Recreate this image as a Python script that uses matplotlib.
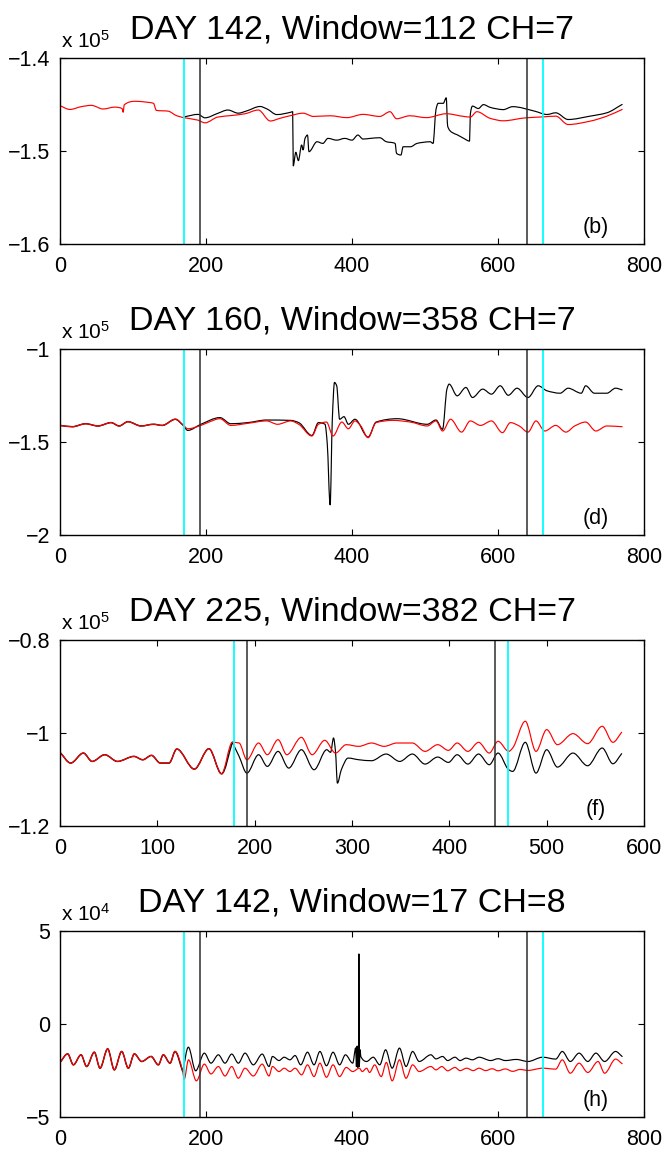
import numpy as np
import matplotlib
matplotlib.use("Agg")
import matplotlib.pyplot as plt
from matplotlib.path import Path
from matplotlib.patches import PathPatch

plt.rcParams['font.family'] = ['Liberation Sans', 'DejaVu Sans']
plt.rcParams['mathtext.fontset'] = 'custom'
plt.rcParams['mathtext.rm'] = 'Liberation Sans'
plt.rcParams['mathtext.it'] = 'Liberation Sans'

# ---- panel (b): DAY 142, Window=112, CH=7  (values in units of 1e5) ----
b_red_t = [0, 13.7, 29, 43, 59, 75, 85, 86.5, 88, 103, 119, 128, 132, 148, 160, 171, 189, 198.6,
           216, 235, 253, 271.6, 288, 301.4, 315, 333, 347, 370, 393, 415, 438, 452, 461, 479,
           502, 529, 553, 562, 571, 589, 607, 638, 661, 679, 696, 726, 749, 770]
b_red_v = [-1.451, -1.455, -1.452, -1.4506, -1.4545, -1.4525, -1.454, -1.458, -1.450, -1.4462,
           -1.4472, -1.4484, -1.456, -1.4568, -1.4618, -1.464, -1.4665, -1.4694, -1.4632,
           -1.4615, -1.4597, -1.4556, -1.4674, -1.4645, -1.4618, -1.459, -1.4625, -1.4618,
           -1.4638, -1.4603, -1.4625, -1.4574, -1.465, -1.4618, -1.4638, -1.4596, -1.4625,
           -1.4632, -1.4574, -1.4645, -1.4672, -1.464, -1.463, -1.4622, -1.4712, -1.4676,
           -1.4622, -1.455]
b_blk_t = [171, 189, 198.6, 216, 230, 244, 256, 274, 283.6, 297, 316, 318.7, 319.5, 323, 326.5,
           331, 333, 335.6, 339, 341, 352, 360, 367, 379, 390, 400, 408, 415, 425, 438, 447, 459,
           461, 467, 470, 480, 489, 497, 507, 511, 515, 518, 525, 529, 531, 537, 544, 553, 561,
           562, 565, 573, 580, 589, 598, 607, 620, 650, 667, 679, 696, 726, 749, 770]
b_blk_v = [-1.4628, -1.4603, -1.464, -1.4592, -1.4556, -1.459, -1.4565, -1.4518, -1.4545,
           -1.4605, -1.458, -1.4574, -1.5156, -1.501, -1.51, -1.4932, -1.4985, -1.4861,
           -1.4825, -1.5004, -1.4897, -1.4915, -1.4861, -1.488, -1.4861, -1.488, -1.4825,
           -1.4868, -1.4861, -1.4854, -1.4897, -1.4915, -1.5022, -1.504, -1.4951, -1.4951,
           -1.4915, -1.4904, -1.4897, -1.4915, -1.455, -1.4484, -1.4484, -1.4425, -1.473,
           -1.4797, -1.4822, -1.4861, -1.489, -1.4605, -1.4514, -1.454, -1.4498, -1.4527,
           -1.4543, -1.4552, -1.452, -1.4568, -1.4604, -1.4586, -1.4658, -1.4622, -1.4586,
           -1.4496]

# ---- panel (d): DAY 160, Window=358, CH=7  (units of 1e5) ----
d_red_t = [0, 17, 35, 52, 70, 81, 93, 111, 128, 140, 158, 169, 175, 193, 204, 219, 234, 257, 283,
           298, 316, 327, 345, 354, 365, 374, 386, 395, 404, 412, 422, 433, 456, 480, 503, 515,
           524, 535, 550, 562, 576, 591, 606, 617, 629, 641, 652, 664, 679, 693, 705, 720, 734,
           749, 770]
d_red_v = [-1.411, -1.418, -1.402, -1.414, -1.396, -1.414, -1.391, -1.414, -1.405, -1.411,
           -1.378, -1.411, -1.429, -1.411, -1.393, -1.375, -1.411, -1.400, -1.387, -1.405,
           -1.387, -1.405, -1.468, -1.405, -1.393, -1.468, -1.393, -1.429, -1.387, -1.414,
           -1.477, -1.396, -1.384, -1.393, -1.414, -1.387, -1.441, -1.378, -1.447, -1.387,
           -1.411, -1.387, -1.450, -1.396, -1.414, -1.447, -1.387, -1.441, -1.411, -1.447,
           -1.414, -1.393, -1.441, -1.414, -1.418]
d_blk_t = [169, 175, 193, 219, 234, 257, 283, 316, 327, 345, 354, 363, 366, 370, 373, 376, 379,
           383, 389, 395, 404, 422, 433, 462, 503, 515, 524, 530, 533, 544, 556, 565, 579, 591,
           603, 614, 626, 641, 655, 667, 685, 696, 714, 720, 732, 749, 761, 770]
d_blk_v = [-1.411, -1.438, -1.405, -1.369, -1.402, -1.396, -1.382, -1.384, -1.396, -1.465,
           -1.396, -1.405, -1.505, -1.838, -1.378, -1.180, -1.198, -1.378, -1.364, -1.405,
           -1.378, -1.474, -1.393, -1.375, -1.405, -1.382, -1.432, -1.216, -1.189, -1.252,
           -1.207, -1.261, -1.216, -1.243, -1.198, -1.249, -1.211, -1.261, -1.198, -1.225,
           -1.238, -1.211, -1.238, -1.198, -1.238, -1.238, -1.211, -1.220]

# ---- panel (f): DAY 225, Window=382, CH=7  (units of 1e5) ----
f_red_t = [0, 11, 24, 33, 46, 59, 76, 85, 94, 103, 112, 120, 138, 153, 166, 177, 184, 192, 204,
           213, 224, 233, 248, 259, 272, 283, 294, 307, 320, 333, 346, 362, 375, 388, 399, 408,
           419, 430, 441, 450, 461, 465, 478, 489, 500, 511, 527, 542, 557, 568, 577]
f_red_v = [-1.0417, -1.0647, -1.0432, -1.0612, -1.0468, -1.0612, -1.0504, -1.0576, -1.0482,
           -1.0647, -1.0647, -1.0345, -1.0777, -1.0338, -1.0878, -1.0201, -1.0216, -1.0576,
           -1.0216, -1.0468, -1.0144, -1.0468, -1.0094, -1.0468, -1.0158, -1.0432, -1.0252,
           -1.0288, -1.0216, -1.0288, -1.0216, -1.0216, -1.0396, -1.0252, -1.0374, -1.0216,
           -1.0396, -1.0201, -1.0432, -1.0180, -1.0396, -1.0324, -0.9748, -1.0396, -0.9928,
           -1.0252, -1.0014, -1.0230, -0.9856, -1.0201, -0.9986]
f_blk_t = [177, 184, 192, 204, 213, 224, 235, 248, 261, 274, 278, 281, 283, 285, 289, 296, 307,
           320, 335, 349, 362, 375, 388, 399, 408, 419, 430, 441, 450, 461, 465, 478, 489, 500,
           511, 527, 542, 557, 568, 577]
f_blk_v = [-1.0201, -1.0504, -1.0863, -1.0468, -1.0719, -1.0396, -1.0755, -1.036, -1.0791,
           -1.036, -1.0417, -1.0108, -1.0396, -1.1079, -1.0791, -1.054, -1.0576, -1.0597,
           -1.0453, -1.0612, -1.0453, -1.0669, -1.0518, -1.0633, -1.0468, -1.0669, -1.0453,
           -1.0683, -1.0432, -1.0791, -1.0827, -1.0201, -1.0863, -1.036, -1.0734, -1.0432,
           -1.0705, -1.0324, -1.0662, -1.0446]

# ---- panel (h): DAY 142, Window=17, CH=8  (units of 1e4) ----
h_red_t = [0, 10.5, 18.3, 28.8, 36.5, 47, 54.8, 65.3, 74.4, 84.5, 93.6, 101.8, 111.9, 124.7,
           134.7, 141.5, 150.7, 157.5, 168.1, 170, 176, 186.8, 197.7, 206.8, 216.9, 226, 235.2,
           244.3, 253.4, 264.8, 277, 286.3, 291, 300, 307, 315, 322, 331, 339, 348, 356, 365,
           374, 383, 392, 401, 410, 414, 420, 424, 431, 440, 447, 455, 465, 474, 483, 492, 508,
           515, 523, 531, 541, 548, 557, 566, 574, 583, 592, 600, 610, 620, 630, 641, 661, 679,
           688, 699, 711, 723, 737, 746, 761, 770]
h_red_v = [-2.08, -1.62, -2.21, -1.67, -2.30, -1.53, -2.39, -1.35, -2.48, -1.49, -2.39, -1.62,
           -2.03, -1.76, -2.21, -1.67, -2.12, -1.49, -2.57, -3.00, -1.94, -3.07, -2.17, -2.70,
           -2.30, -2.81, -2.30, -2.93, -2.39, -2.81, -2.17, -2.81, -2.30, -2.57, -2.39, -2.57,
           -2.39, -2.75, -2.21, -2.84, -2.12, -2.88, -2.21, -2.84, -2.35, -2.57, -2.39, -2.57,
           -2.39, -2.62, -2.21, -2.84, -2.08, -3.07, -1.94, -2.93, -2.21, -2.57, -2.30, -2.48,
           -2.30, -2.53, -2.35, -2.52, -2.39, -2.52, -2.39, -2.52, -2.42, -2.53, -2.43, -2.56,
           -2.46, -2.51, -2.39, -2.44, -1.94, -2.66, -2.12, -2.62, -2.03, -2.66, -1.90, -2.15]
h_blk_t = [168.1, 175.8, 185.8, 197.7, 206.8, 216.9, 226, 235.2, 244.3, 253.4, 264.8, 277,
           286.3, 291, 300, 307, 315, 322, 329.7, 339, 348, 356, 365, 374, 383, 391, 401, 405,
           406, 407, 408, 409, 409.4, 410, 411, 412, 420, 429, 438, 446, 455, 465, 474, 483,
           492, 508, 515, 524, 531, 541, 548, 556, 565, 574, 590, 600, 610, 625, 641, 661, 679,
           688, 699, 711, 723, 734, 746, 761, 770]
h_blk_v = [-2.57, -1.26, -2.53, -1.58, -2.12, -1.67, -2.12, -1.63, -2.12, -1.58, -2.21, -1.63,
           -2.30, -1.76, -1.98, -1.80, -1.94, -1.71, -2.21, -1.53, -2.21, -1.49, -2.26, -1.53,
           -2.21, -1.67, -2.12, -1.30, -2.30, -1.20, -2.35, -1.50, 3.75, -2.30, -1.40, -1.76,
           -2.03, -1.80, -2.21, -1.40, -2.39, -1.31, -2.30, -1.49, -2.03, -1.67, -1.89, -1.76,
           -1.98, -1.80, -1.98, -1.85, -1.94, -1.80, -1.98, -1.88, -1.98, -1.92, -2.03, -1.80,
           -1.90, -1.49, -2.03, -1.58, -2.03, -1.58, -2.03, -1.49, -1.76]

panels = [
    dict(title='DAY 142, Window=112 CH=7', tag='(b)', exp='5', shared_lead=False,
         red=(b_red_t, b_red_v), blk=(b_blk_t, b_blk_v),
         xlim=(0, 800), xticks=[0, 200, 400, 600, 800],
         ylim=(-1.6, -1.4), yticks=[-1.6, -1.5, -1.4], ylabels=['\u22121.6', '\u22121.5', '\u22121.4'],
         cyan=[170, 661], black=[192, 639]),
    dict(title='DAY 160, Window=358 CH=7', tag='(d)', exp='5', shared_lead=True,
         red=(d_red_t, d_red_v), blk=(d_blk_t, d_blk_v),
         xlim=(0, 800), xticks=[0, 200, 400, 600, 800],
         ylim=(-2, -1), yticks=[-2, -1.5, -1], ylabels=['\u22122', '\u22121.5', '\u22121'],
         cyan=[170, 661], black=[192, 639]),
    dict(title='DAY 225, Window=382 CH=7', tag='(f)', exp='5', shared_lead=True,
         red=(f_red_t, f_red_v), blk=(f_blk_t, f_blk_v),
         xlim=(0, 600), xticks=[0, 100, 200, 300, 400, 500, 600],
         ylim=(-1.2, -0.8), yticks=[-1.2, -1, -0.8], ylabels=['\u22121.2', '\u22121', '\u22120.8'],
         cyan=[179, 460], black=[192, 447]),
    dict(title='DAY 142, Window=17 CH=8', tag='(h)', exp='4', shared_lead=True,
         red=(h_red_t, h_red_v), blk=(h_blk_t, h_blk_v),
         xlim=(0, 800), xticks=[0, 200, 400, 600, 800],
         ylim=(-5, 5), yticks=[-5, 0, 5], ylabels=['\u22125', '0', '5'],
         cyan=[170, 661], black=[192, 639]),
]


def smooth_path(x, y):
    """Cubic Bezier path through the samples, with shape-preserving (PCHIP) tangents."""
    x = np.asarray(x, float)
    y = np.asarray(y, float)
    h = np.diff(x)
    d = np.diff(y) / h
    m = np.zeros_like(y)
    m[0], m[-1] = d[0], d[-1]
    for k in range(1, len(x) - 1):
        if d[k - 1] * d[k] > 0:
            w1 = 2 * h[k] + h[k - 1]
            w2 = h[k] + 2 * h[k - 1]
            m[k] = (w1 + w2) / (w1 / d[k - 1] + w2 / d[k])
    verts = [(x[0], y[0])]
    codes = [Path.MOVETO]
    for k in range(len(h)):
        verts += [(x[k] + h[k] / 3, y[k] + m[k] * h[k] / 3),
                  (x[k + 1] - h[k] / 3, y[k + 1] - m[k + 1] * h[k] / 3),
                  (x[k + 1], y[k + 1])]
        codes += [Path.CURVE4] * 3
    return Path(verts, codes)


def trace(ax, x, y, color, lw):
    ax.add_patch(PathPatch(smooth_path(x, y), fill=False, edgecolor=color, lw=lw,
                           joinstyle='round', capstyle='round'))


fig = plt.figure(figsize=(6.69, 11.52), dpi=100)
bottoms = [0.7879, 0.5356, 0.2830, 0.0306]

for p, bot in zip(panels, bottoms):
    ax = fig.add_axes([0.0897, bot, 0.873, 0.1615])
    rt, rv = np.array(p['red'][0]), np.array(p['red'][1])
    bt, bv = np.array(p['blk'][0]), np.array(p['blk'][1])

    # where both traces coincide before the window, black sits just under the red
    if p['shared_lead']:
        pre = rt <= bt[0]
        trace(ax, rt[pre], rv[pre], 'k', 1.05)
    trace(ax, bt, bv, 'k', 0.85)
    trace(ax, rt, rv, 'red', 0.85)

    for xc in p['cyan']:
        ax.axvline(xc, color='cyan', lw=1.3)
    for xb in p['black']:
        ax.axvline(xb, color='#2e2e2e', lw=1.1)

    ax.set_xlim(*p['xlim'])
    ax.set_ylim(*p['ylim'])
    ax.set_xticks(p['xticks'])
    ax.set_yticks(p['yticks'])
    ax.set_yticklabels(p['ylabels'])
    ax.tick_params(direction='in', length=4, width=0.8, top=True, right=True,
                   labelsize=15.5)
    ax.tick_params(axis='x', pad=8.5)
    ax.tick_params(axis='y', pad=7)
    for s in ax.spines.values():
        s.set_linewidth(1.0)

    ax.set_title(p['title'], fontsize=24.5, pad=14)
    ax.text(0.002, 1.055, r'x 10$^{%s}$' % p['exp'], transform=ax.transAxes,
            fontsize=15, va='baseline', ha='left')
    ax.text(0.918, 0.088, p['tag'], transform=ax.transAxes, fontsize=15.5,
            ha='center', va='center')

fig.savefig('out.png', dpi=100)
